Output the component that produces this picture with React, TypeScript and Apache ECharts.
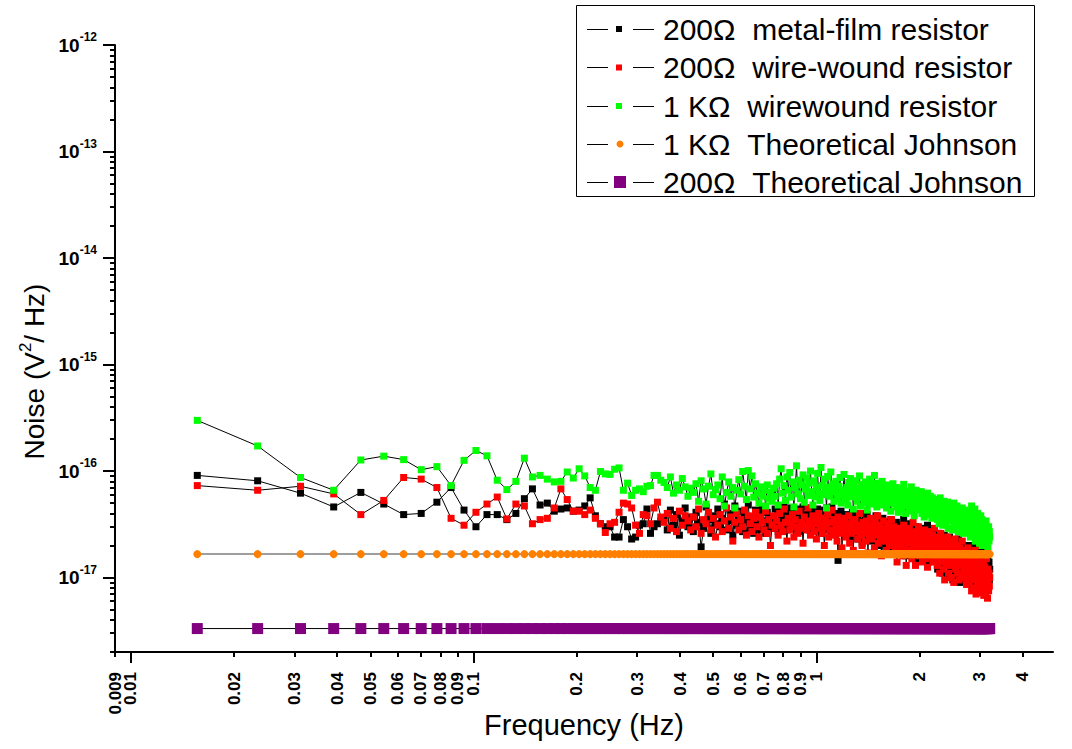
import React, { useEffect, useRef } from "react";
import * as echarts from "echarts";

// Spectra are sampled on FFT bins of width 1/128 Hz; the first plotted bin is bin 2.
const BIN_WIDTH_HZ = 1 / 128;
const FIRST_BIN = 2;
// Measured values below are given in units of 1e-18 V²/Hz.
const UNIT = 1e-18;

const seriesNames = [
  "200Ω  metal-film resistor",
  "200Ω  wire-wound resistor",
  "1 KΩ  wirewound resistor",
  "1 KΩ  Theoretical Johnson",
  "200Ω  Theoretical Johnson",
];

// 200 Ω metal-film resistor (black)
const metalFilm200 = [
  91, 81, 62, 46, 63, 49, 39, 40, 51, 70,
  43, 30, 39, 39, 35, 40, 55, 68, 48, 50,
  42, 44, 45, 42, 43, 47, 56, 38, 32, 30,
  30, 24, 24, 35, 30, 23, 24, 31, 32, 44,
  26, 30, 32, 34,
  36, 28, 43, 31, 39, 25, 34, 45, 30, 37,
  27, 41, 33, 19.4, 29, 46, 35, 26, 38, 32,
  44, 30, 36, 49, 28, 34, 40, 25, 47, 31,
  35, 42, 27, 38, 33, 48, 29, 37, 26, 43,
  32, 39, 28, 45, 34, 26, 41, 30, 36, 29,
  37, 44, 31, 27, 42, 35, 30, 46, 33, 28,
  40, 34, 45, 29, 38, 31, 43, 36, 27, 44,
  33, 46, 30, 39, 35, 42, 28, 45, 37, 32,
  41, 29, 36, 44, 31, 38, 26, 43, 34, 39,
  30, 45, 35, 28, 41, 33, 46, 29, 37, 32,
  40, 31, 14.5, 36, 27, 42, 33, 29, 38, 25,
  34, 39, 28, 32, 24, 37, 30, 41, 26, 35,
  29, 33, 38, 23, 31, 27, 40, 30, 21, 34,
  32, 26, 36, 29, 39, 24, 31, 28, 35, 22,
  30, 35, 25, 33, 27, 38, 23, 31, 29, 20,
  34, 26, 31, 22, 36, 28, 24, 32, 19, 29,
  27, 33, 21, 30, 25, 35, 28, 18, 31, 24,
  29, 22, 26, 33, 19, 27, 24, 31, 17, 25,
  23, 30, 20, 26, 35, 21, 28, 16, 24, 27,
  26, 19, 29, 22, 25, 32, 18, 24, 21, 28,
  20, 27, 23, 17, 30, 22, 25, 15, 26, 21,
  24, 18, 28, 21, 16, 25, 20, 29, 19, 23,
  17, 26, 22, 19, 31, 20, 14, 24, 21, 18,
  25, 19, 23, 16, 27, 20, 22, 15, 24, 18,
  21, 16, 24, 12, 19, 26, 14, 22, 17, 20,
  15, 23, 18, 11, 21, 16, 25, 13, 19, 17,
  22, 14, 18, 10.5, 20, 16, 13, 24, 15, 19,
  12, 21, 16, 19, 9.5, 17, 14, 22, 11, 18,
  16, 13, 20, 10, 18, 14, 23, 12, 17, 9,
  19, 11, 15, 21, 13, 17, 10, 16, 14, 20,
  12, 17, 9.5, 15, 19, 11, 14, 18, 10, 16,
  14, 10, 17, 12, 20, 9, 15, 11, 18, 13,
  16, 8.5, 13, 19, 10, 14, 11, 22, 9.5, 15,
  12, 17, 9, 14, 11, 20, 8.2, 13, 16, 10,
  15, 9, 12, 18, 10.5, 13, 8, 16, 11, 14,
  9.5, 13, 11, 17, 8.5, 12, 14, 9, 15, 10.5,
  13, 11, 14, 9.5, 12,
];

// 200 Ω wire-wound resistor (red)
const wireWound200 = [
  73, 66, 72, 61, 39, 53, 87, 84, 70, 36,
  31, 41, 49, 57, 35.5, 49, 47, 32, 35, 36,
  45, 68, 54, 42, 42, 39, 43, 36, 32, 26.5,
  32, 33, 41, 50, 49, 45, 31, 26, 39, 38,
  32, 45, 51, 37,
  33, 40, 29, 36, 27, 42, 31, 38, 34, 28,
  37, 30, 44, 26, 35, 32, 41, 28, 36, 24,
  31, 39, 27, 34, 45, 29, 37, 22, 33, 40,
  28, 35, 30, 43, 25, 38, 32, 27, 36, 41,
  30, 24, 37, 33, 28, 42, 26, 35, 20, 31,
  38, 29, 34, 25, 40, 31, 27, 44, 33, 22,
  36, 28, 32, 39, 24, 35, 30, 26, 42, 29,
  33, 21, 37, 31, 28, 45, 34, 25, 30, 38,
  27, 35, 23, 32, 40, 29, 36, 26, 31, 20,
  34, 30, 39, 24, 28, 33, 43, 27, 35, 25,
  31, 22, 37, 29, 26, 34, 19, 30, 27, 36,
  24, 32, 28, 38, 21, 30, 26, 33, 18, 29,
  35, 27, 31, 23, 28, 40, 25, 30, 20, 33,
  26, 29, 22, 34, 27, 17, 31, 24, 36, 28,
  23, 30, 26, 19, 33, 25, 28, 38, 21, 27,
  31, 24, 16, 29, 26, 34, 22, 28, 25, 18,
  27, 32, 23, 20, 29, 25, 35, 21, 26, 30,
  22, 19, 27, 24, 14, 29, 21, 26, 18, 25,
  20, 28, 23, 16, 31, 19, 25, 22, 13, 27,
  24, 18, 21, 29, 17, 23, 26, 15, 22, 33,
  19, 25, 21, 13, 27, 20, 24, 17, 30, 22,
  16, 23, 19, 26, 21, 14, 25, 18, 22, 28,
  20, 15, 24, 19, 12.5, 22, 27, 17, 21, 18,
  23, 16, 20, 25, 14, 21, 18, 29, 15, 19,
  17, 22, 13, 19, 24, 15, 20, 11, 18, 26,
  14, 19, 16, 23, 12, 18, 21, 9.5, 17, 15,
  20, 13, 17, 24, 15, 11, 19, 16, 22, 14,
  18, 10, 16, 21, 13, 17, 9, 19, 15, 23,
  12, 17, 14, 20, 11, 16, 18, 13, 9.5, 15,
  19, 14, 10.5, 17, 13, 22, 15, 11, 16, 12,
  14, 18, 10, 15, 12, 8.6, 16, 13, 19, 11,
  13, 9, 15, 11, 17, 10, 14, 7.5, 12, 16,
  10, 13, 8, 15, 11, 18, 9.5, 12, 7, 14,
  11, 16, 9, 12, 7.8, 13, 10, 14, 8.5, 20,
  9.5, 12, 7.2, 11, 14, 8.2, 10, 13, 6.8, 11.5,
  8, 12.5, 9.8, 7, 11, 15, 8.8, 10.5, 6.4, 12,
  9, 7.5, 11, 8.3, 10,
];

// 1 kΩ wire-wound resistor (green)
const wireWound1k = [
  299, 172, 87, 66, 127, 138, 128, 103, 110, 73,
  126, 156, 139, 82, 67, 80, 132, 88, 91, 84,
  79, 80, 98, 86, 105, 90, 70, 66, 99, 94,
  93, 104, 107, 66, 77, 59, 66, 68, 64, 72,
  73, 91, 91, 82,
  78, 70, 88, 62, 74, 66, 85, 71, 58, 69,
  63, 76, 52, 81, 68, 49, 72, 94, 60, 67,
  74, 55, 88, 47, 63, 79, 58, 70, 45, 66,
  83, 61, 99, 72, 54, 101, 68, 90, 57, 76,
  62, 50, 71, 58, 66, 47, 74, 55, 63, 52,
  69, 58, 76, 48, 84, 105, 62, 73, 53, 88,
  66, 97, 57, 79, 46, 70, 112, 61, 82, 55,
  74, 92, 51, 68, 86, 59, 77, 100, 64, 48,
  81, 57, 70, 95, 62, 53, 108, 73, 60, 84,
  67, 45, 89, 71, 58, 98, 64, 76, 52, 69,
  80, 61, 55, 72, 87, 50, 66, 59, 93, 63,
  54, 70, 48, 78, 61, 85, 57, 67, 44, 73,
  62, 81, 52, 69, 58, 90, 47, 64, 75, 56,
  66, 50, 79, 60, 43, 71, 55, 84, 62, 49,
  74, 58, 65, 91, 53, 68, 46, 77, 60, 57,
  69, 52, 63, 80, 48, 59, 72, 55, 66, 45,
  61, 74, 50, 57, 68, 42, 63, 53, 76, 58,
  49, 62, 55, 70, 46, 58, 41, 66, 52, 60,
  56, 44, 68, 51, 75, 47, 59, 40, 63, 54,
  48, 65, 53, 42, 60, 57, 71, 45, 50, 62,
  55, 38, 58, 49, 66, 52, 44, 61, 47, 56,
  43, 59, 51, 64, 40, 54, 48, 57, 37, 52,
  60, 46, 55, 42, 62, 50, 39, 53, 47, 58,
  44, 51, 36, 56, 48, 41, 54, 45, 50, 38,
  47, 40, 53, 35, 45, 50, 32, 43, 56, 39,
  42, 36, 49, 31, 44, 38, 52, 34, 46, 40,
  33, 45, 39, 51, 29, 42, 37, 48, 35, 41,
  46, 34, 40, 28, 44, 38, 50, 32, 36, 43,
  30, 41, 35, 47, 33, 39, 27, 42, 36, 31,
  44, 37, 29, 40, 34, 45, 32, 38, 26, 41,
  35, 30, 43, 33, 39, 28, 37, 31, 42, 29,
  36, 27, 41, 32, 24, 38, 30, 47, 26, 34,
  29, 39, 25, 35, 31, 44, 22, 33, 28, 37,
  32, 26, 40, 23, 34, 29, 36, 21, 31, 27,
  38, 24, 30, 35, 20, 28, 33, 25, 29, 22,
  27, 31, 23, 26, 34, 21, 29, 24, 28, 19,
  25, 30, 22, 27, 24,
];

// Theoretical Johnson noise levels 4kTR (V²/Hz)
const johnson1k = 1.66e-17;
const johnson200 = 3.32e-18;

// Axis tick values
const xEdgeLabelValues = [0.009];
const xLabelValues = [0.01, 0.02, 0.03, 0.04, 0.05, 0.06, 0.07, 0.08, 0.09, 0.1, 0.2, 0.3, 0.4, 0.5, 0.6, 0.7, 0.8, 0.9, 1, 2, 3, 4];
const xMajorTickValues = [0.01, 0.1, 1];
const yDecadeValues = [1e-17, 1e-16, 1e-15, 1e-14, 1e-13, 1e-12];
const yMinorMantissas = [2, 3, 4, 5, 6, 7, 8, 9];
const yMinorExponents = [-18, -17, -16, -15, -14, -13];

const COLORS = ["#000000", "#ff0000", "#00ff00", "#ff8000", "#800080"];
const FONT = "'Liberation Sans', Arial, Helvetica, sans-serif";

export default function App() {
  const ref = useRef<HTMLDivElement>(null);

  useEffect(() => {
    if (!ref.current) return;
    const chart = echarts.init(ref.current, undefined, { renderer: "svg" });

    const freqs = metalFilm200.map((_, i) => (i + FIRST_BIN) * BIN_WIDTH_HZ);
    const toPairs = (vals: number[]) => vals.map((v, i) => [freqs[i], v * UNIT]);
    const constPairs = (v: number) => freqs.map((f) => [f, v]);

    const yMinorValues: number[] = [];
    yMinorExponents.forEach((e) => yMinorMantissas.forEach((m) => yMinorValues.push(m * Math.pow(10, e))));

    const gridRect = { left: 115, right: 19, top: 45, bottom: 97, containLabel: false, outerBoundsMode: "none" };
    const axisLineStyle = { color: "#000", width: 2 };
    const X_MIN = 0.00899;
    const X_MAX = 4.9;

    const xLabelStyle = {
      rotate: 90,
      margin: 20,
      color: "#000",
      fontSize: 17,
      fontWeight: "bold",
      fontFamily: FONT,
      formatter: (v: number) => String(v),
    };

    const measured = (idx: number, vals: number[]) => ({
      type: "line",
      name: seriesNames[idx],
      data: toPairs(vals),
      xAxisIndex: 0,
      yAxisIndex: 0,
      symbol: "rect",
      symbolSize: 7,
      itemStyle: { color: COLORS[idx] },
      lineStyle: { color: "#000", width: 1 },
      emphasis: { disabled: true },
    });

    // Legend drawn as graphic (line–marker–line glyph with text)
    const legendRowY = [29, 67.5, 106, 144, 182];
    const legendEls: any[] = [
      {
        type: "rect",
        shape: { x: 576.5, y: 5.5, width: 458, height: 191 },
        style: { fill: "#fff", stroke: "#000", lineWidth: 1 },
      },
    ];
    legendRowY.forEach((y, i) => {
      const ly = Math.floor(y) + 0.5;
      legendEls.push({ type: "line", shape: { x1: 587, y1: ly, x2: 608, y2: ly }, style: { stroke: "#000", lineWidth: 1 } });
      legendEls.push({ type: "line", shape: { x1: 633, y1: ly, x2: 654, y2: ly }, style: { stroke: "#000", lineWidth: 1 } });
      if (i === 3) {
        legendEls.push({ type: "circle", shape: { cx: 620, cy: y, r: 3.5 }, style: { fill: COLORS[i] } });
      } else if (i === 4) {
        legendEls.push({ type: "rect", shape: { x: 614, y: y - 6, width: 12, height: 12 }, style: { fill: COLORS[i] } });
      } else {
        legendEls.push({ type: "rect", shape: { x: 616, y: y - 3, width: 6, height: 6 }, style: { fill: COLORS[i] } });
      }
      legendEls.push({
        type: "text",
        style: {
          text: seriesNames[i],
          x: 663,
          y,
          fill: "#000",
          fontSize: 30,
          fontFamily: FONT,
          align: "left",
          verticalAlign: "middle",
        },
      });
    });

    const option: any = {
      animation: false,
      backgroundColor: "#fff",
      textStyle: { fontFamily: FONT },
      grid: [
        { ...gridRect },
        { ...gridRect },
      ],
      xAxis: [
        {
          type: "log",
          gridIndex: 0,
          logBase: 10,
          min: X_MIN,
          max: X_MAX,
          axisLine: { show: true, lineStyle: axisLineStyle },
          axisTick: { show: true, customValues: [...xEdgeLabelValues, ...xLabelValues], length: 5, lineStyle: { color: "#000", width: 2 } },
          axisLabel: { show: true, customValues: xLabelValues, ...xLabelStyle },
          splitLine: { show: false },
          minorTick: { show: false },
          name: "Frequency (Hz)",
          nameLocation: "middle",
          nameGap: 58,
          nameMoveOverlap: false,
          nameTextStyle: { fontSize: 29, color: "#000", fontFamily: FONT },
        },
        {
          type: "log",
          gridIndex: 1,
          logBase: 10,
          min: X_MIN,
          max: X_MAX,
          axisLine: { show: false },
          axisTick: { show: true, customValues: xMajorTickValues, length: 11, lineStyle: { color: "#000", width: 2 } },
          axisLabel: { show: true, customValues: xEdgeLabelValues, showMinLabel: true, ...xLabelStyle },
          splitLine: { show: false },
        },
      ],
      yAxis: [
        {
          type: "log",
          gridIndex: 0,
          logBase: 10,
          min: 2e-18,
          max: 1e-12,
          axisLine: { show: true, lineStyle: axisLineStyle },
          axisTick: { show: true, customValues: yDecadeValues, length: 12, lineStyle: { color: "#000", width: 2 } },
          axisLabel: {
            show: true,
            customValues: yDecadeValues,
            margin: 18,
            color: "#000",
            formatter: (v: number) => `{b|10}{s|${Math.round(Math.log10(v))}}`,
            rich: {
              b: { fontSize: 19, fontWeight: "bold", color: "#000", fontFamily: FONT, lineHeight: 28 },
              s: { fontSize: 12, fontWeight: "bold", color: "#000", fontFamily: FONT, verticalAlign: "top", lineHeight: 14 },
            },
          },
          splitLine: { show: false },
          name: "{a|Noise (V}{s|2}{a|/ Hz)}",
          nameLocation: "middle",
          nameRotate: 90,
          nameGap: 64,
          nameMoveOverlap: false,
          nameTextStyle: {
            padding: [0, 46, 0, 0],
            rich: {
              a: { fontSize: 28, color: "#000", fontFamily: FONT, lineHeight: 34 },
              s: { fontSize: 17, color: "#000", fontFamily: FONT, verticalAlign: "top", lineHeight: 18 },
            },
          },
        },
        {
          type: "log",
          gridIndex: 1,
          logBase: 10,
          min: 2e-18,
          max: 1e-12,
          axisLine: { show: false },
          axisTick: { show: true, customValues: yMinorValues, length: 5, lineStyle: { color: "#000", width: 2 } },
          axisLabel: { show: false },
          splitLine: { show: false },
        },
      ],
      series: [
        measured(0, metalFilm200),
        measured(1, wireWound200),
        measured(2, wireWound1k),
        {
          type: "line",
          name: seriesNames[3],
          data: constPairs(johnson1k),
          symbol: "circle",
          symbolSize: 8,
          itemStyle: { color: COLORS[3] },
          lineStyle: { color: "#7f7f7f", width: 1.5 },
          emphasis: { disabled: true },
        },
        {
          type: "line",
          name: seriesNames[4],
          data: constPairs(johnson200),
          symbol: "rect",
          symbolSize: 11,
          itemStyle: { color: COLORS[4] },
          lineStyle: { color: "#000", width: 1 },
          emphasis: { disabled: true },
        },
      ],
      graphic: legendEls,
    };

    chart.setOption(option);
    return () => chart.dispose();
  }, []);

  return (
    <div
      ref={ref}
      style={{ position: "absolute", left: 0, top: 0, width: 1072, height: 749 }}
    />
  );
}
